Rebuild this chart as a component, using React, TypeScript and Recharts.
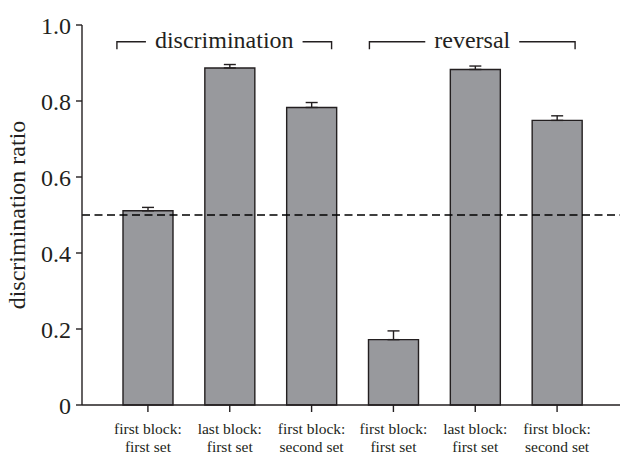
import React, { useMemo } from 'react';
import { Bar, BarChart, ErrorBar, ReferenceLine, XAxis, YAxis } from 'recharts';

// per-condition means and SEM (upward error bars only)
const CONDITIONS = ['d1', 'd2', 'd3', 'r1', 'r2', 'r3'];
const TICK_TOP = ['first block:', 'last block:', 'first block:', 'first block:', 'last block:', 'first block:'];
const TICK_BOTTOM = ['first set', 'first set', 'second set', 'first set', 'first set', 'second set'];
const RATIO = [0.511, 0.887, 0.783, 0.172, 0.883, 0.749];
const SEM = [0.009, 0.009, 0.013, 0.023, 0.009, 0.012];
const Y_TICKS = [0, 0.2, 0.4, 0.6, 0.8, 1.0];
const CHANCE = 0.5;

const GROUP_NAMES = ['discrimination', 'reversal'];
const GROUP_FIRST = [0, 3];
const GROUP_LAST = [2, 5];

const W = 620;
const H = 454;
const TOP = 25;
const AXIS_X = 82;
const X_AXIS_H = 49;
const PAD_L = 25;
const PAD_R = 22;
const BAR_W = 50;
const FONT = '"Liberation Serif", "Times New Roman", serif';
const INK = '#231f20';

const BAND = (W - AXIS_X - PAD_L - PAD_R) / CONDITIONS.length;
const centerOf = (i: number) => AXIS_X + PAD_L + BAND * (i + 0.5);
// bracket ends relative to first/last bar centre
const SPAN = [
  [-31, 20],
  [-24, 18],
];

const data = CONDITIONS.map((c, i) => ({ c, ratio: RATIO[i], err: [0, SEM[i]] }));

function CategoryTick(props: any) {
  const { x, y, payload } = props;
  const i = payload.index;
  return (
    <g transform={`translate(${x},${y})`}>
      <text textAnchor="middle" fontSize={15.5} fontFamily={FONT} fill={INK}>
        <tspan x={0} dy={20}>{TICK_TOP[i]}</tspan>
        <tspan x={0} dy={17.5}>{TICK_BOTTOM[i]}</tspan>
      </text>
    </g>
  );
}

function textWidth(s: string, size: number) {
  const ctx = document.createElement('canvas').getContext('2d');
  if (!ctx) return s.length * size * 0.42;
  ctx.font = `${size}px "Liberation Serif"`;
  return ctx.measureText(s).width;
}

function GroupBrackets() {
  const widths = useMemo(() => GROUP_NAMES.map((g) => textWidth(g, 24)), []);
  const lineY = 41.7;
  const drop = 7.5;
  const gap = 9;
  return (
    <svg width={W} height={H} style={{ position: 'absolute', left: 0, top: 0, pointerEvents: 'none' }}>
      {GROUP_NAMES.map((g, k) => {
        const x1 = centerOf(GROUP_FIRST[k]) + SPAN[k][0];
        const x2 = centerOf(GROUP_LAST[k]) + SPAN[k][1];
        const mid = (x1 + x2) / 2;
        const half = widths[k] / 2 + gap;
        return (
          <g key={g} stroke={INK} strokeWidth={1.4} fill="none">
            <polyline points={`${x1},${lineY + drop} ${x1},${lineY} ${mid - half},${lineY}`} />
            <polyline points={`${mid + half},${lineY} ${x2},${lineY} ${x2},${lineY + drop}`} />
            <text x={mid} y={47.5} textAnchor="middle" fontSize={24} fontFamily={FONT} fill={INK} stroke="none">
              {g}
            </text>
          </g>
        );
      })}
      <text
        x={25}
        y={(TOP + H - X_AXIS_H) / 2}
        transform={`rotate(-90 25 ${(TOP + H - X_AXIS_H) / 2})`}
        textAnchor="middle"
        fontSize={24}
        fontFamily={FONT}
        fill={INK}
      >
        discrimination ratio
      </text>
    </svg>
  );
}

export default function App() {
  return (
    <div style={{ position: 'relative', width: W, height: H, background: '#fff' }}>
      <style>{'body{margin:0}'}</style>
      <BarChart width={W} height={H} data={data} margin={{ top: TOP, right: 0, bottom: 0, left: 0 }}>
        <XAxis
          dataKey="c"
          height={X_AXIS_H}
          padding={{ left: PAD_L, right: PAD_R }}
          stroke={INK}
          strokeWidth={1.4}
          tickSize={7}
          tickMargin={2}
          tick={<CategoryTick />}
          interval={0}
        />
        <YAxis
          width={AXIS_X}
          domain={[0, 1]}
          ticks={Y_TICKS}
          stroke={INK}
          strokeWidth={1.4}
          tickSize={6}
          tickMargin={5}
          tickFormatter={(v: number) => (v === 0 ? '0' : v.toFixed(1))}
          tick={{ fontSize: 24, fontFamily: FONT, fill: INK }}
        />
        <ReferenceLine y={CHANCE} stroke="#000" strokeWidth={1.4} strokeDasharray="8 4.5" />
        <Bar dataKey="ratio" barSize={BAR_W} fill="#98999d" stroke={INK} strokeWidth={1.4} isAnimationActive={false}>
          <ErrorBar dataKey="err" direction="y" width={6} stroke={INK} strokeWidth={1.4} isAnimationActive={false} />
        </Bar>
      </BarChart>
      <GroupBrackets />
    </div>
  );
}
